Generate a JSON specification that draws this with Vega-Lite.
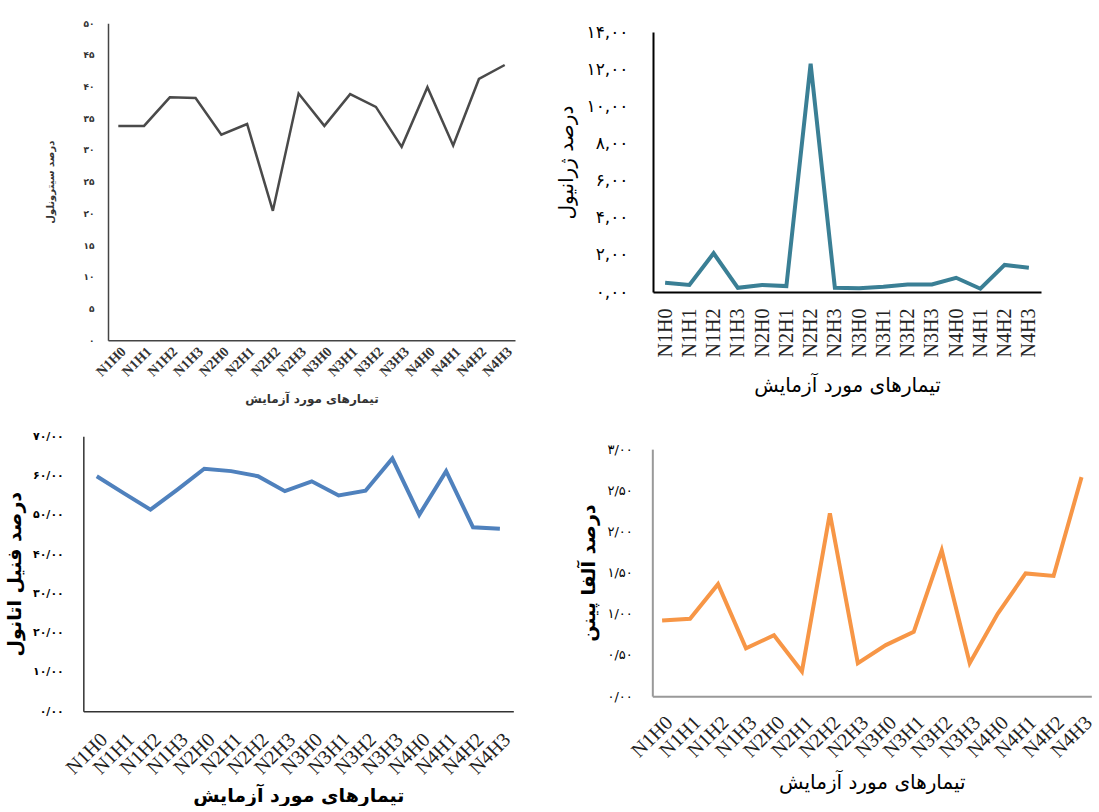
{
  "$schema": "https://vega.github.io/schema/vega-lite/v6.json",
  "padding": {"left": 5, "top": 19, "right": 0, "bottom": 0},
  "background": "white",
  "datasets": {
    "tl": [
      {"t": "N1H0", "v": 33.8}, {"t": "N1H1", "v": 33.8}, {"t": "N1H2", "v": 38.3}, {"t": "N1H3", "v": 38.2},
      {"t": "N2H0", "v": 32.4}, {"t": "N2H1", "v": 34.1}, {"t": "N2H2", "v": 20.4}, {"t": "N2H3", "v": 38.9},
      {"t": "N3H0", "v": 33.8}, {"t": "N3H1", "v": 38.8}, {"t": "N3H2", "v": 36.8}, {"t": "N3H3", "v": 30.5},
      {"t": "N4H0", "v": 39.9}, {"t": "N4H1", "v": 30.7}, {"t": "N4H2", "v": 41.2}, {"t": "N4H3", "v": 43.4}
    ],
    "tr": [
      {"t": "N1H0", "v": 0.5}, {"t": "N1H1", "v": 0.38}, {"t": "N1H2", "v": 2.09}, {"t": "N1H3", "v": 0.23},
      {"t": "N2H0", "v": 0.38}, {"t": "N2H1", "v": 0.32}, {"t": "N2H2", "v": 12.29}, {"t": "N2H3", "v": 0.23},
      {"t": "N3H0", "v": 0.2}, {"t": "N3H1", "v": 0.29}, {"t": "N3H2", "v": 0.41}, {"t": "N3H3", "v": 0.41},
      {"t": "N4H0", "v": 0.77}, {"t": "N4H1", "v": 0.18}, {"t": "N4H2", "v": 1.46}, {"t": "N4H3", "v": 1.31}
    ],
    "bl": [
      {"t": "N1H0", "v": 59.8}, {"t": "N1H1", "v": 55.5}, {"t": "N1H2", "v": 51.3}, {"t": "N1H3", "v": 56.4},
      {"t": "N2H0", "v": 61.7}, {"t": "N2H1", "v": 61.1}, {"t": "N2H2", "v": 59.8}, {"t": "N2H3", "v": 56.0},
      {"t": "N3H0", "v": 58.5}, {"t": "N3H1", "v": 54.9}, {"t": "N3H2", "v": 56.1}, {"t": "N3H3", "v": 64.3},
      {"t": "N4H0", "v": 50.0}, {"t": "N4H1", "v": 61.1}, {"t": "N4H2", "v": 46.8}, {"t": "N4H3", "v": 46.4}
    ],
    "br": [
      {"t": "N1H0", "v": 0.92}, {"t": "N1H1", "v": 0.94}, {"t": "N1H2", "v": 1.36}, {"t": "N1H3", "v": 0.58},
      {"t": "N2H0", "v": 0.74}, {"t": "N2H1", "v": 0.3}, {"t": "N2H2", "v": 2.22}, {"t": "N2H3", "v": 0.4},
      {"t": "N3H0", "v": 0.62}, {"t": "N3H1", "v": 0.78}, {"t": "N3H2", "v": 1.77}, {"t": "N3H3", "v": 0.4},
      {"t": "N4H0", "v": 1.0}, {"t": "N4H1", "v": 1.49}, {"t": "N4H2", "v": 1.46}, {"t": "N4H3", "v": 2.66}
    ]
  },
  "vconcat": [
    {
      "hconcat": [
        {
          "width": 407, "height": 317,
          "data": {"name": "tl"},
          "mark": {"type": "line", "color": "#4a4a4a", "strokeWidth": 2.5},
          "encoding": {
            "x": {"field": "t", "type": "ordinal", "sort": null, "scale": {"type": "point", "padding": 0.4},
              "axis": {"title": "تیمارهای مورد آزمایش", "titleFontSize": 12, "titleFont": "DejaVu Sans", "titleFontWeight": "bold", "titleColor": "#333", "titlePadding": 15,
                "labelAngle": -45, "labelFontSize": 14, "labelFont": "Liberation Serif", "labelFontWeight": "bold", "labelColor": "#333", "labelPadding": 4,
                "ticks": false, "domainColor": "#444", "domainWidth": 1.5}},
            "y": {"field": "v", "type": "quantitative", "scale": {"domain": [0, 50]},
              "axis": {"title": "درصد سیترونلول", "titleFontSize": 10, "titleFont": "DejaVu Sans", "titleFontWeight": "bold", "titleColor": "#333", "titlePadding": 28,
                "values": [0, 5, 10, 15, 20, 25, 30, 35, 40, 45, 50], "labelFontSize": 9, "labelFont": "DejaVu Sans", "labelFontWeight": "bold", "labelColor": "#333", "labelPadding": 14,
                "labelExpr": "replace(replace(replace(replace(replace(replace(replace(replace(replace(replace(format(datum.value,'d'),regexp('0','g'),'۰'),regexp('1','g'),'۱'),regexp('2','g'),'۲'),regexp('3','g'),'۳'),regexp('4','g'),'۴'),regexp('5','g'),'۵'),regexp('6','g'),'۶'),regexp('7','g'),'۷'),regexp('8','g'),'۸'),regexp('9','g'),'۹')",
                "ticks": false, "grid": false, "domainColor": "#444", "domainWidth": 1.5}}
          }
        },
        {
          "width": 388, "height": 260,
          "data": {"name": "tr"},
          "title": {"text": " ", "orient": "right", "fontSize": 10, "offset": 20},
          "mark": {"type": "line", "color": "#3a7f95", "strokeWidth": 4},
          "encoding": {
            "x": {"field": "t", "type": "ordinal", "sort": null, "scale": {"type": "point", "padding": 0.5},
              "axis": {"title": "تیمارهای مورد آزمایش", "titleFontSize": 20, "titleFont": "DejaVu Sans", "titleFontWeight": "normal", "titleColor": "black", "titlePadding": 19,
                "labelAngle": -90, "labelFontSize": 20, "labelFont": "Liberation Serif", "labelColor": "#222", "labelPadding": 16,
                "ticks": false, "domainColor": "black", "domainWidth": 2}},
            "y": {"field": "v", "type": "quantitative", "scale": {"domain": [0, 14]},
              "axis": {"title": "درصد ژرانیول", "titleFontSize": 20, "titleFont": "DejaVu Sans", "titleFontWeight": "normal", "titleColor": "black", "titlePadding": 10,
                "values": [0, 2, 4, 6, 8, 10, 12, 14], "labelFontSize": 17, "labelFont": "DejaVu Sans", "labelColor": "black", "labelPadding": 25,
                "labelExpr": "replace(replace(replace(replace(replace(replace(replace(replace(replace(replace(replace(format(datum.value,'.2f'),'.',','),regexp('0','g'),'۰'),regexp('1','g'),'۱'),regexp('2','g'),'۲'),regexp('3','g'),'۳'),regexp('4','g'),'۴'),regexp('5','g'),'۵'),regexp('6','g'),'۶'),regexp('7','g'),'۷'),regexp('8','g'),'۸'),regexp('9','g'),'۹')",
                "ticks": false, "grid": false, "domainColor": "black", "domainWidth": 2}}
          }
        }
      ],
      "spacing": 41,
      "center": true
    },
    {
      "hconcat": [
        {
          "width": 430, "height": 275,
          "data": {"name": "bl"},
          "mark": {"type": "line", "color": "#4f81bd", "strokeWidth": 4},
          "encoding": {
            "x": {"field": "t", "type": "ordinal", "sort": null, "scale": {"type": "point", "padding": 0.5},
              "axis": {"title": "تیمارهای مورد آزمایش", "titleFontSize": 19, "titleFont": "DejaVu Sans", "titleFontWeight": "bold", "titleColor": "black", "titlePadding": 9,
                "labelAngle": -45, "labelFontSize": 20, "labelFont": "Liberation Serif", "labelColor": "#222", "labelPadding": 18,
                "ticks": false, "domainColor": "#333", "domainWidth": 1.5}},
            "y": {"field": "v", "type": "quantitative", "scale": {"domain": [0, 70]},
              "axis": {"title": "درصد فنیل اتانول", "titleFontSize": 19, "titleFont": "DejaVu Sans", "titleFontWeight": "bold", "titleColor": "black", "titlePadding": 8,
                "values": [0, 10, 20, 30, 40, 50, 60, 70], "labelFontSize": 11, "labelFont": "DejaVu Sans", "labelFontWeight": "bold", "labelColor": "black", "labelPadding": 20,
                "labelExpr": "replace(replace(replace(replace(replace(replace(replace(replace(replace(replace(replace(format(datum.value,'.2f'),'.','/'),regexp('0','g'),'۰'),regexp('1','g'),'۱'),regexp('2','g'),'۲'),regexp('3','g'),'۳'),regexp('4','g'),'۴'),regexp('5','g'),'۵'),regexp('6','g'),'۶'),regexp('7','g'),'۷'),regexp('8','g'),'۸'),regexp('9','g'),'۹')",
                "ticks": false, "grid": false, "domainColor": "#333", "domainWidth": 1.5}}
          }
        },
        {
          "width": 439, "height": 247,
          "data": {"name": "br"},
          "mark": {"type": "line", "color": "#f79646", "strokeWidth": 4},
          "encoding": {
            "x": {"field": "t", "type": "ordinal", "sort": null, "scale": {"type": "point", "padding": 0.35},
              "axis": {"title": "تیمارهای مورد آزمایش", "titleFontSize": 20, "titleFont": "DejaVu Sans", "titleFontWeight": "normal", "titleColor": "black", "titlePadding": 12,
                "labelAngle": -45, "labelFontSize": 20, "labelFont": "Liberation Serif", "labelColor": "#222", "labelPadding": 16,
                "ticks": false, "domainColor": "#999", "domainWidth": 2}},
            "y": {"field": "v", "type": "quantitative", "scale": {"domain": [0, 3]},
              "axis": {"title": "درصد  آلفا  پینن", "titleFontSize": 19, "titleFont": "DejaVu Sans", "titleFontWeight": "bold", "titleColor": "black", "titlePadding": 8,
                "values": [0, 0.5, 1, 1.5, 2, 2.5, 3], "labelFontSize": 13, "labelFont": "DejaVu Sans", "labelColor": "black", "labelPadding": 20,
                "labelExpr": "replace(replace(replace(replace(replace(replace(replace(replace(replace(replace(replace(format(datum.value,'.2f'),'.','/'),regexp('0','g'),'۰'),regexp('1','g'),'۱'),regexp('2','g'),'۲'),regexp('3','g'),'۳'),regexp('4','g'),'۴'),regexp('5','g'),'۵'),regexp('6','g'),'۶'),regexp('7','g'),'۷'),regexp('8','g'),'۸'),regexp('9','g'),'۹')",
                "ticks": false, "grid": false, "domainColor": "#999", "domainWidth": 2}}
          }
        }
      ],
      "spacing": 65,
      "center": true
    }
  ],
  "spacing": 25,
  "center": true,
  "config": {"view": {"stroke": null}}
}
